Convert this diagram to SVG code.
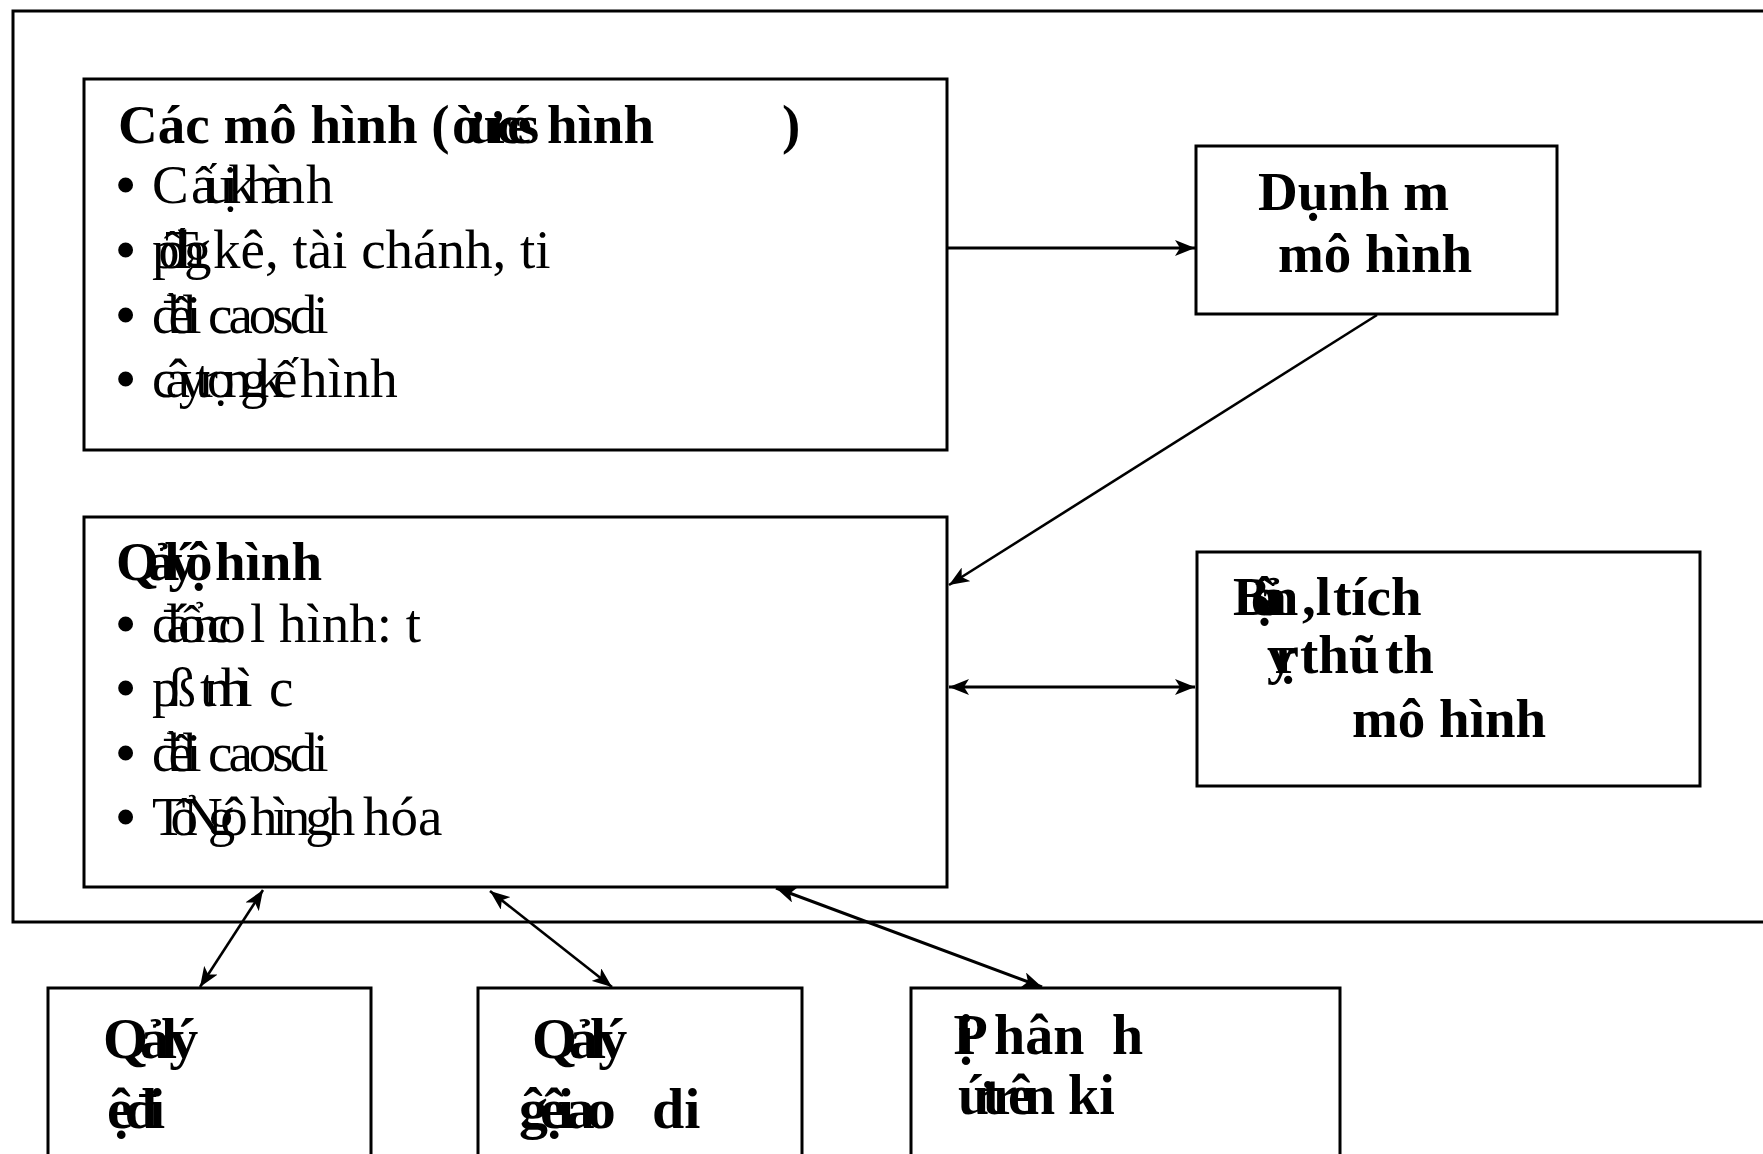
<svg xmlns="http://www.w3.org/2000/svg" width="1763" height="1154" viewBox="0 0 1763 1154">
<style>
.box{fill:#fff;stroke:#000;stroke-width:3}
.frame{fill:none;stroke:#000;stroke-width:3}
.b{font-family:"Liberation Serif","Times New Roman",serif;font-weight:bold;font-size:55px;fill:#000}
.r{font-family:"Liberation Serif","Times New Roman",serif;font-size:55px;fill:#000}
.bb{font-family:"Liberation Serif","Times New Roman",serif;font-weight:bold;font-size:58px;fill:#000}
.bc{font-family:"Liberation Serif","Times New Roman",serif;font-weight:bold;font-size:56px;fill:#000}
.bu{font-weight:bold}
.c{stroke:#000;stroke-width:3;fill:none}
.d{stroke:#000;stroke-width:2.6;fill:none}
</style>
<defs>
<marker id="ah" viewBox="0 0 20 16" refX="20" refY="8" markerWidth="20" markerHeight="16" markerUnits="userSpaceOnUse" orient="auto-start-reverse">
<path d="M0,0 L20,8 L0,16 L5,8 z" fill="#000"/>
</marker>
</defs>
<rect width="1763" height="1154" fill="#fff"/>
<rect class="frame" x="13" y="11" width="1765" height="911"/>

<g id="models">
<rect class="box" x="84" y="79" width="863" height="371"/>
<text class="b" y="143"><tspan x="118">Các mô hình (</tspan><tspan x="452" letter-spacing="-14">ờưrcés</tspan><tspan x="547">hình</tspan><tspan x="782">)</tspan></text>
<text class="r" y="203"><tspan x="116" class="bu">•</tspan><tspan x="152">C</tspan><tspan x="191" letter-spacing="-10">ấuịkhàn</tspan><tspan x="306">h</tspan></text>
<text class="r" y="268"><tspan x="116" class="bu">•</tspan><tspan x="152" letter-spacing="-21">pốThg</tspan><tspan x="213">kê, tài chánh, ti</tspan></text>
<text class="r" y="333"><tspan x="116" class="bu">•</tspan><tspan x="152" letter-spacing="-11">đềli</tspan><tspan x="208" letter-spacing="-4">caosdi</tspan></text>
<text class="r" y="397"><tspan x="116" class="bu">•</tspan><tspan x="152" letter-spacing="-11">câytrọngkế</tspan><tspan x="300">hình</tspan></text>
</g>

<g id="define">
<rect class="box" x="1196" y="146" width="361" height="168"/>
<text class="b" x="1258" y="210">Dụnh m</text>
<text class="b" x="1278" y="272">mô hình</text>
</g>

<g id="manage">
<rect class="box" x="84" y="517" width="863" height="370"/>
<text class="b" y="580"><tspan x="116" letter-spacing="-11">Qảlýộ</tspan><tspan x="215">hình</tspan></text>
<text class="r" y="642"><tspan x="116" class="bu">•</tspan><tspan x="152" letter-spacing="-13">đáổnco</tspan><tspan x="250">l hình: t</tspan></text>
<text class="r" y="706"><tspan x="116" class="bu">•</tspan><tspan x="152" letter-spacing="-11">pß</tspan><tspan x="200" letter-spacing="-11">tnhì</tspan><tspan x="269">c</tspan></text>
<text class="r" y="771"><tspan x="116" class="bu">•</tspan><tspan x="152" letter-spacing="-11">đềli</tspan><tspan x="208" letter-spacing="-4">caosdi</tspan></text>
<text class="r" y="835"><tspan x="116" class="bu">•</tspan><tspan x="152" letter-spacing="-15">TổNgô</tspan><tspan x="250" letter-spacing="-5">hìngh</tspan><tspan x="363">hóa</tspan></text>
</g>

<g id="analyze">
<rect class="box" x="1197" y="552" width="503" height="234"/>
<text class="b" y="615"><tspan x="1233" letter-spacing="-19">Bộản</tspan><tspan x="1302">,l</tspan><tspan x="1333">tích</tspan></text>
<text class="b" y="673"><tspan x="1267" letter-spacing="-20">ỵr</tspan><tspan x="1300">thũ</tspan><tspan x="1385">th</tspan></text>
<text class="b" x="1352" y="737">mô hình</text>
</g>

<g id="manage-a">
<rect class="box" x="48" y="988" width="323" height="180"/>
<text class="bb" x="103" y="1058" letter-spacing="-8">Qảlý</text>
<text class="bb" x="107" y="1128" letter-spacing="-8">ệđi</text>
</g>

<g id="manage-b">
<rect class="box" x="478" y="988" width="324" height="180"/>
<text class="bb" x="532" y="1058" letter-spacing="-8">Qảlý</text>
<text class="bb" y="1128"><tspan x="519" letter-spacing="-8">ĝệiao</tspan><tspan x="652">di</tspan></text>
</g>

<g id="execute">
<rect class="box" x="911" y="988" width="429" height="180"/>
<text class="bc" y="1054"><tspan x="958" letter-spacing="-20">ịP</tspan><tspan x="994">hân</tspan><tspan x="1112">h</tspan></text>
<text class="bc" y="1114"><tspan x="958" letter-spacing="-9">ứtrên</tspan><tspan x="1068">ki</tspan></text>
</g>

<g id="connectors">
<line class="c" x1="947" y1="248" x2="1195" y2="248" marker-end="url(#ah)"/>
<line class="d" x1="1377" y1="315" x2="949" y2="585" marker-end="url(#ah)"/>
<line class="c" x1="949" y1="687" x2="1195" y2="687" marker-start="url(#ah)" marker-end="url(#ah)"/>
<line class="d" x1="263" y1="890" x2="200" y2="987" marker-start="url(#ah)" marker-end="url(#ah)"/>
<line class="d" x1="490" y1="891" x2="612" y2="987" marker-start="url(#ah)" marker-end="url(#ah)"/>
<line class="c" x1="776" y1="888" x2="1042" y2="987" marker-start="url(#ah)" marker-end="url(#ah)"/>
</g>
</svg>
